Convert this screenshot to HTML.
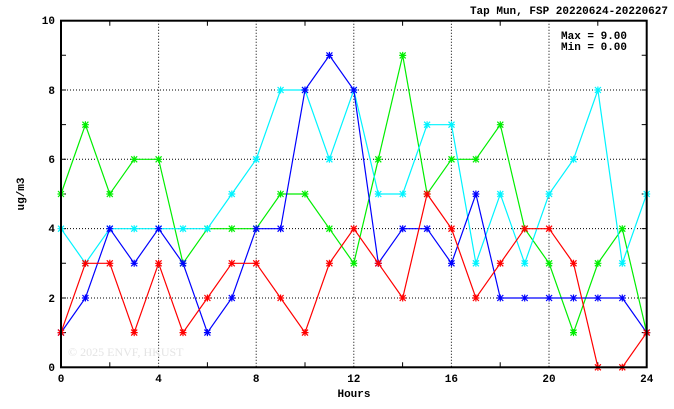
<!DOCTYPE html>
<html><head><meta charset="utf-8"><style>body{margin:0;background:#fff}svg{display:block}</style></head>
<body>
<svg width="674" height="409" xmlns="http://www.w3.org/2000/svg" font-family="Liberation Mono, monospace" font-weight="bold" font-size="11">
<defs>
<marker id="mg" markerUnits="userSpaceOnUse" markerWidth="10" markerHeight="10" refX="5" refY="5" overflow="visible"><path d="M2 2l6 6M2 8l6-6M1.5 5h7M5 1.5v7" stroke="#00ee00" stroke-width="1.2" fill="none"/></marker>
<marker id="mc" markerUnits="userSpaceOnUse" markerWidth="10" markerHeight="10" refX="5" refY="5" overflow="visible"><path d="M2 2l6 6M2 8l6-6M1.5 5h7M5 1.5v7" stroke="#00f4ff" stroke-width="1.2" fill="none"/></marker>
<marker id="mb" markerUnits="userSpaceOnUse" markerWidth="10" markerHeight="10" refX="5" refY="5" overflow="visible"><path d="M2 2l6 6M2 8l6-6M1.5 5h7M5 1.5v7" stroke="#0000ff" stroke-width="1.2" fill="none"/></marker>
<marker id="mr" markerUnits="userSpaceOnUse" markerWidth="10" markerHeight="10" refX="5" refY="5" overflow="visible"><path d="M2 2l6 6M2 8l6-6M1.5 5h7M5 1.5v7" stroke="#ff0000" stroke-width="1.2" fill="none"/></marker>
</defs>
<rect width="674" height="409" fill="#fff"/>
<g stroke="#000" stroke-width="1" stroke-dasharray="1,2">
<line x1="158.6" y1="20.7" x2="158.6" y2="367.3"/>
<line x1="256.2" y1="20.7" x2="256.2" y2="367.3"/>
<line x1="353.8" y1="20.7" x2="353.8" y2="367.3"/>
<line x1="451.4" y1="20.7" x2="451.4" y2="367.3"/>
<line x1="549" y1="20.7" x2="549" y2="367.3"/>
<line x1="61" y1="298" x2="646.7" y2="298"/>
<line x1="61" y1="228.6" x2="646.7" y2="228.6"/>
<line x1="61" y1="159.3" x2="646.7" y2="159.3"/>
<line x1="61" y1="90" x2="646.7" y2="90"/>
</g>
<g stroke="#000" stroke-width="1">
<path d="M61 332.6h5M61 263.3h5M61 194h5M61 124.6h5M61 55.3h5M646.7 332.6h-5M646.7 263.3h-5M646.7 194h-5M646.7 124.6h-5M646.7 55.3h-5M646.7 298h-5M646.7 228.6h-5M646.7 159.3h-5M646.7 90h-5M61 298h5M61 228.6h5M61 159.3h5M61 90h5"/>
<path d="M109.8 367.3v-5M207.4 367.3v-5M305 367.3v-5M402.6 367.3v-5M500.2 367.3v-5M597.8 367.3v-5M109.8 20.7v5M207.4 20.7v5M305 20.7v5M402.6 20.7v5M500.2 20.7v5M597.8 20.7v5"/>
</g>
<text x="68" y="356" font-family="Liberation Serif, serif" font-weight="normal" font-size="12" fill="#e4e4e4">© 2025  ENVF, HKUST</text>
<g fill="none" stroke-width="1.2">
<polyline stroke="#00ee00" marker-start="url(#mg)" marker-mid="url(#mg)" marker-end="url(#mg)" points="61,194 85.4,124.7 109.8,194 134.2,159.3 158.6,159.3 183,263.3 207.4,228.7 231.8,228.7 256.2,228.7 280.6,194 305,194 329.4,228.7 353.8,263.3 378.3,159.3 402.7,55.4 427.1,194 451.5,159.3 475.9,159.3 500.3,124.7 524.7,228.7 549.1,263.3 573.5,332.6 597.9,263.3 622.3,228.7 646.7,332.6"/>
<polyline stroke="#00f4ff" marker-start="url(#mc)" marker-mid="url(#mc)" marker-end="url(#mc)" points="61,228.7 85.4,263.3 109.8,228.7 134.2,228.7 158.6,228.7 183,228.7 207.4,228.7 231.8,194 256.2,159.3 280.6,90 305,90 329.4,159.3 353.8,90 378.3,194 402.7,194 427.1,124.7 451.5,124.7 475.9,263.3 500.3,194 524.7,263.3 549.1,194 573.5,159.3 597.9,90 622.3,263.3 646.7,194"/>
<polyline stroke="#0000ff" marker-start="url(#mb)" marker-mid="url(#mb)" marker-end="url(#mb)" points="61,332.6 85.4,298 109.8,228.7 134.2,263.3 158.6,228.7 183,263.3 207.4,332.6 231.8,298 256.2,228.7 280.6,228.7 305,90 329.4,55.4 353.8,90 378.3,263.3 402.7,228.7 427.1,228.7 451.5,263.3 475.9,194 500.3,298 524.7,298 549.1,298 573.5,298 597.9,298 622.3,298 646.7,332.6"/>
<polyline stroke="#ff0000" marker-start="url(#mr)" marker-mid="url(#mr)" marker-end="url(#mr)" points="61,332.6 85.4,263.3 109.8,263.3 134.2,332.6 158.6,263.3 183,332.6 207.4,298 231.8,263.3 256.2,263.3 280.6,298 305,332.6 329.4,263.3 353.8,228.7 378.3,263.3 402.7,298 427.1,194 451.5,228.7 475.9,298 500.3,263.3 524.7,228.7 549.1,228.7 573.5,263.3 597.9,367.3 622.3,367.3 646.7,332.6"/>
</g>
<rect x="61" y="20.7" width="585.7" height="346.6" fill="none" stroke="#000" stroke-width="2"/>
<g text-anchor="end"><text x="55" y="371">0</text><text x="55" y="302">2</text><text x="55" y="232">4</text><text x="55" y="163">6</text><text x="55" y="94">8</text><text x="55" y="24">10</text></g>
<g text-anchor="middle"><text x="61" y="382">0</text><text x="158.6" y="382">4</text><text x="256.2" y="382">8</text><text x="353.8" y="382">12</text><text x="451.4" y="382">16</text><text x="549" y="382">20</text><text x="646.7" y="382">24</text><text x="354" y="397">Hours</text></g>
<text transform="translate(24,194) rotate(-90)" text-anchor="middle">ug/m3</text>
<text x="668" y="14" text-anchor="end">Tap Mun, FSP 20220624-20220627</text>
<text x="561" y="39">Max = 9.00</text><text x="561" y="50">Min = 0.00</text>
</svg>
</body></html>
